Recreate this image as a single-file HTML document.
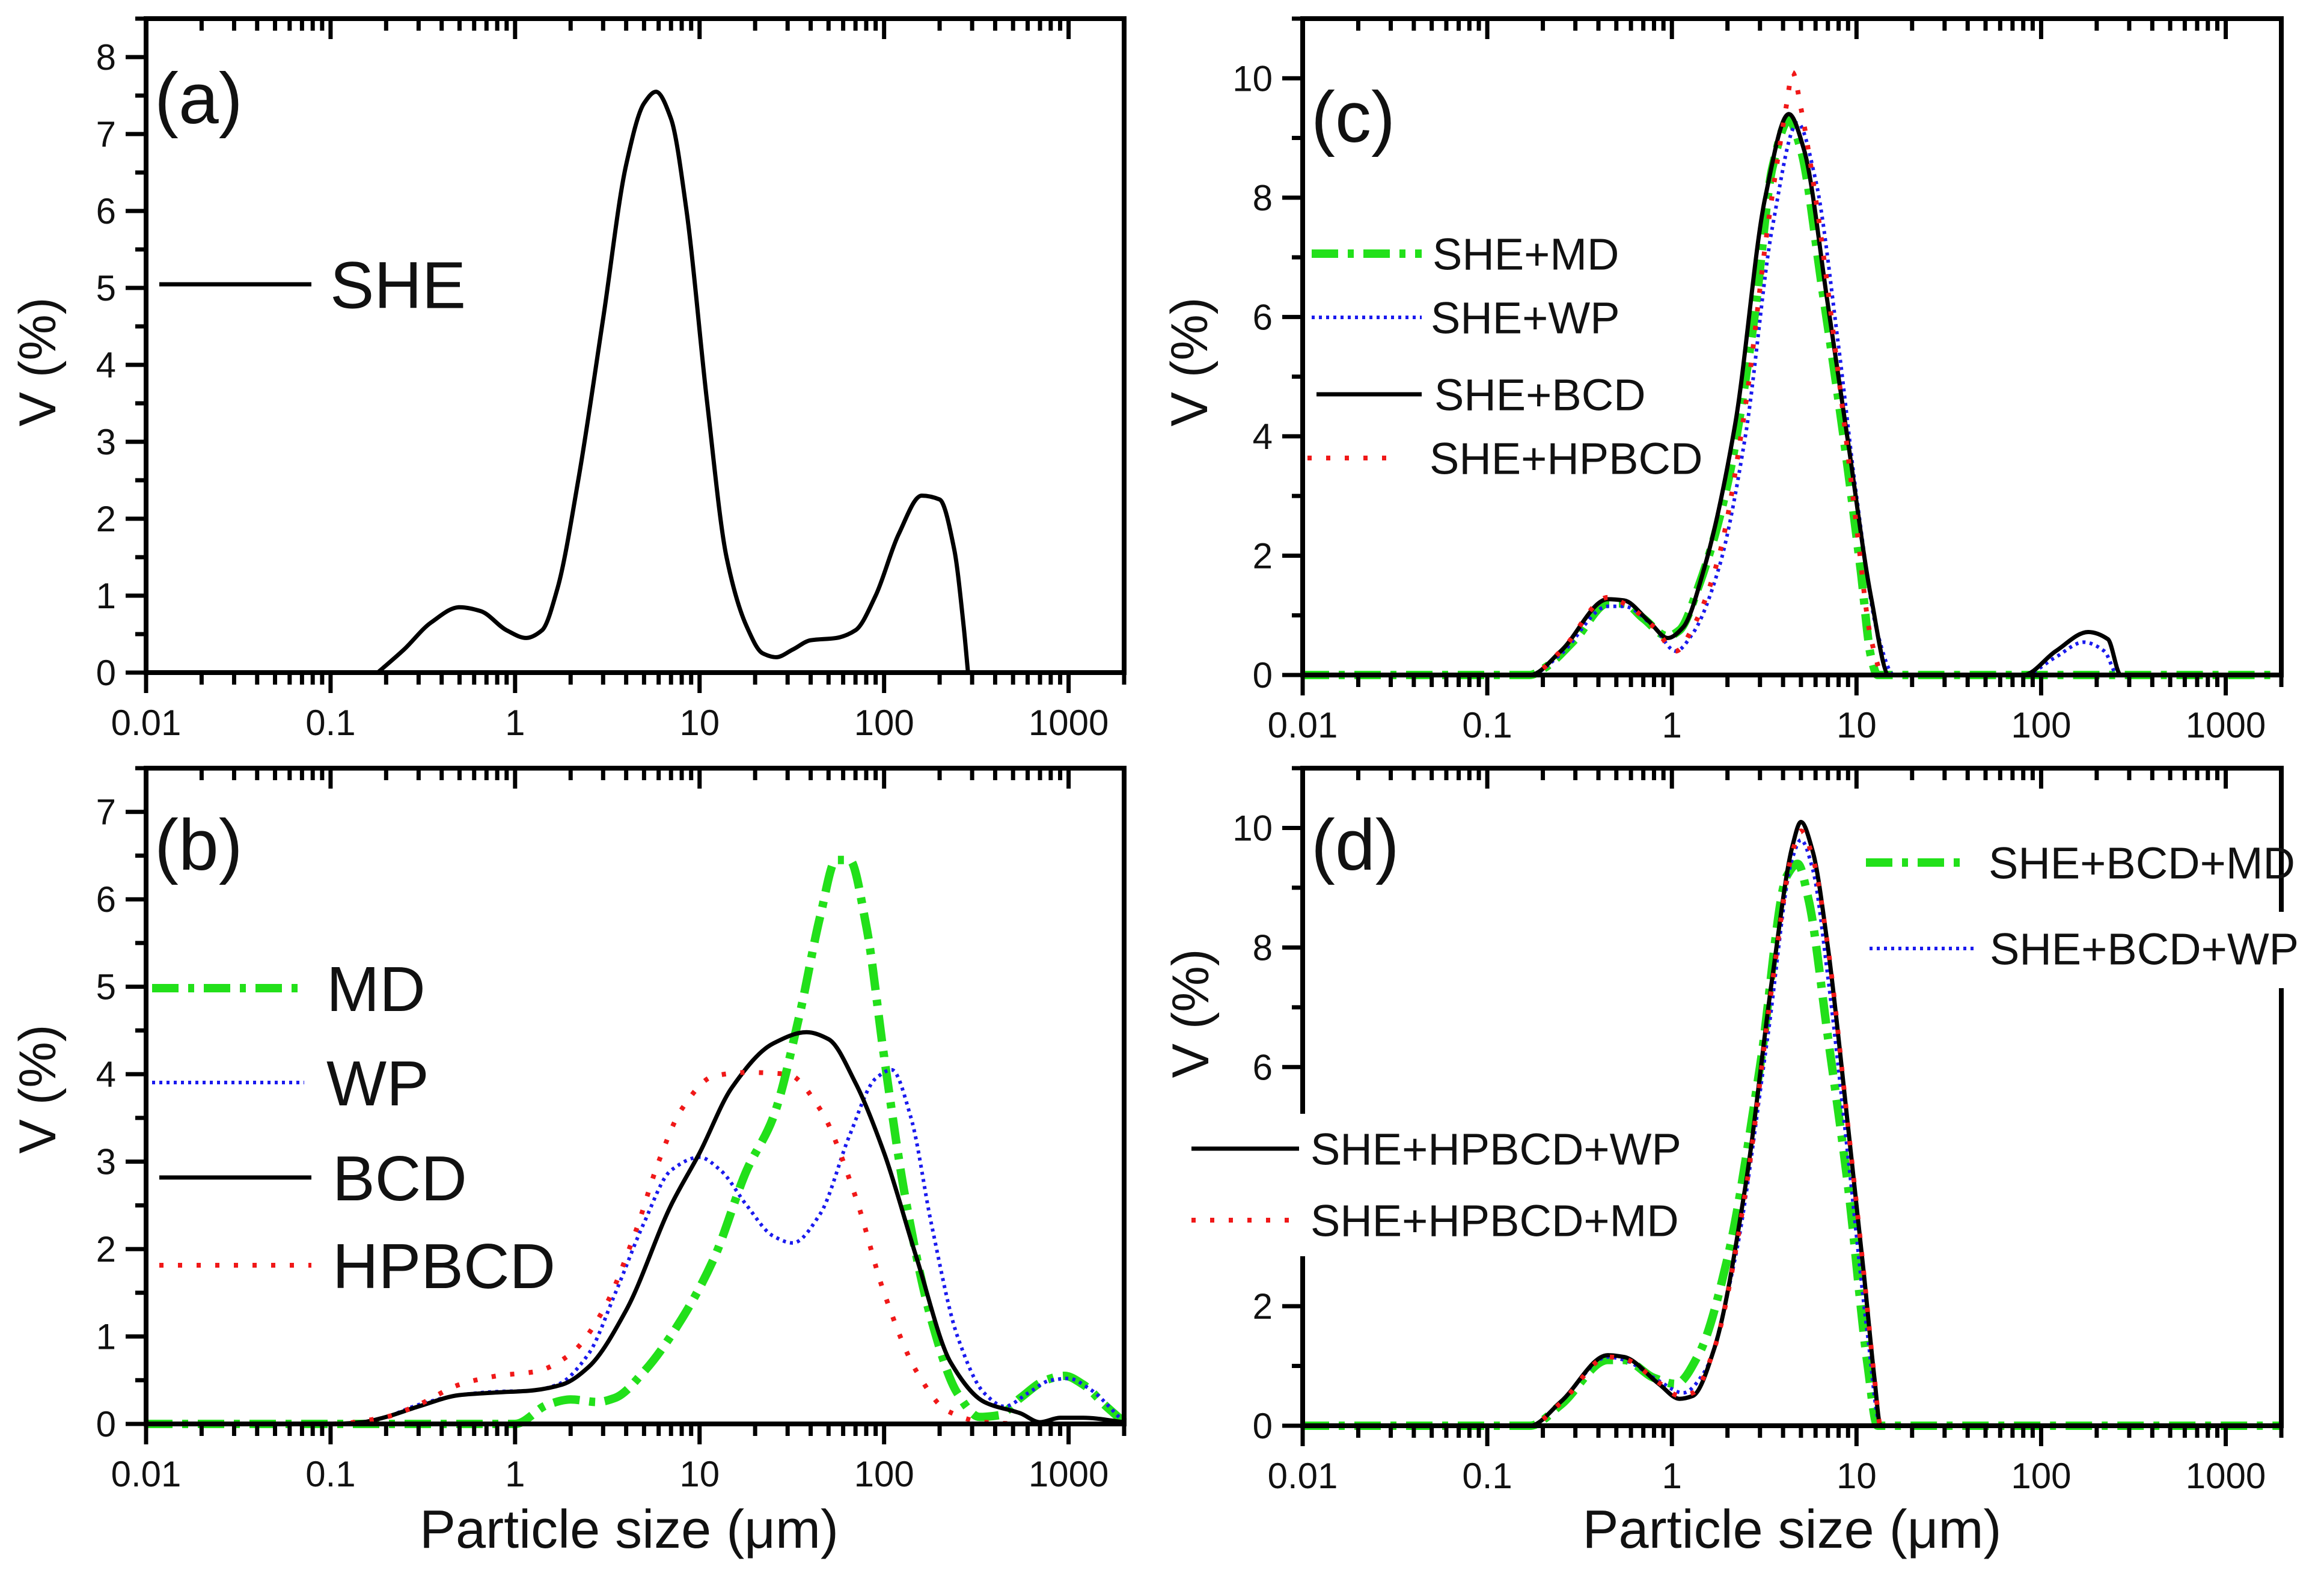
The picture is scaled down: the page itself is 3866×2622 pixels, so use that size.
<!DOCTYPE html>
<html><head><meta charset="utf-8"><style>
html,body{margin:0;padding:0;background:#fff}
svg{display:block}
text{font-family:"Liberation Sans",Arial,sans-serif;fill:#111}
</style></head><body>
<svg id="fig" width="3866" height="2622" viewBox="0 0 3866 2622" xmlns="http://www.w3.org/2000/svg"></svg>
<script>
// ---------- data ----------
const xTickLabels = ["0.01","0.1","1","10","100","1000"];
const aYTicks = [0,1,2,3,4,5,6,7,8];
const bYTicks = [0,1,2,3,4,5,6,7];
const cdYTicks = [0,2,4,6,8,10];

const sheX = [0.18,0.25,0.35,0.5,0.65,0.9,1.15,1.4,1.7,2.2,3,4,5,5.8,7,8.5,11,14,18,22,26,32,40,55,70,90,120,160,200,240,270,285];
const sheY = [0,0.3,0.65,0.85,0.8,0.55,0.45,0.55,1.1,2.5,4.6,6.6,7.4,7.55,7.2,6,3.5,1.5,0.6,0.25,0.2,0.3,0.42,0.45,0.55,1.0,1.8,2.3,2.25,1.6,0.6,0];

const mdX = [0.01,0.1,1,1.5,2,2.8,3.5,5,8,12,18,25,35,45,55,65,80,100,130,180,250,330,420,550,750,950,1200,1600,2000];
const mdY = [0,0,0,0.22,0.28,0.25,0.3,0.6,1.2,1.9,2.9,3.5,4.7,5.8,6.45,6.45,5.7,4.2,2.6,1.2,0.35,0.08,0.1,0.3,0.5,0.55,0.45,0.2,0.02];
const wpX = [0.01,0.1,0.15,0.2,0.3,0.5,0.8,1.2,1.7,2.5,3.5,5,7,10,13,18,25,32,45,65,90,110,140,180,250,350,450,600,800,1000,1300,2000];
const wpY = [0,0,0.02,0.08,0.22,0.33,0.37,0.38,0.45,0.8,1.5,2.3,2.9,3.05,2.9,2.5,2.15,2.07,2.4,3.3,3.95,4.05,3.5,2.3,1.0,0.35,0.2,0.35,0.5,0.52,0.4,0.02];
const bcdX = [0.01,0.1,0.15,0.2,0.3,0.5,0.8,1.2,1.8,2.5,4,7,10,15,25,38,50,70,100,150,230,350,550,700,900,1200,2000];
const bcdY = [0,0,0.02,0.08,0.2,0.33,0.36,0.38,0.45,0.65,1.3,2.5,3.1,3.85,4.35,4.48,4.4,3.9,3.1,1.9,0.7,0.25,0.12,0.02,0.07,0.07,0.02];
const hpX = [0.01,0.1,0.2,0.3,0.5,0.8,1.3,2,3,4.5,6,8,12,18,30,45,70,100,150,220,350,600,2000];
const hpY = [0,0,0.08,0.22,0.45,0.55,0.6,0.8,1.3,2.2,3,3.6,3.98,4.02,4.0,3.6,2.6,1.5,0.6,0.15,0.02,0,0];

const cMdX = [0.01,0.17,0.2,0.3,0.45,0.55,0.7,0.95,1.1,1.4,2,2.8,3.5,4.3,5,6.5,8.5,10.5,12,13,2000];
const cMdY = [0,0,0.1,0.6,1.2,1.2,0.95,0.65,0.75,1.5,3.2,6,8.5,9.3,8.8,6.5,4,1.8,0.3,0,0];
const cWpX = [0.01,0.17,0.25,0.45,0.55,0.8,1.05,1.3,1.8,2.5,3.5,4.8,6,8,10,13,16,80,120,170,220,260,2000];
const cWpY = [0,0,0.35,1.15,1.15,0.8,0.4,0.7,1.8,4,7.5,9.25,8.3,5.5,3,0.7,0,0,0.3,0.55,0.4,0,0];
const cBcdX = [0.01,0.17,0.25,0.45,0.55,0.75,0.95,1.15,1.5,2.2,3.2,4.3,5.2,7,9,12,15,80,120,180,230,270,2000];
const cBcdY = [0,0,0.4,1.27,1.25,0.9,0.62,0.8,1.8,4.2,8,9.4,8.8,6.2,3.9,1.3,0,0,0.4,0.72,0.6,0,0];
const cHpX = [0.01,0.17,0.25,0.45,0.55,0.8,1.05,1.3,1.8,2.5,3.3,4.2,4.5,5,6,8,10,12,14,2000];
const cHpY = [0,0,0.4,1.3,1.2,0.8,0.4,0.8,2,4.5,7.5,9.6,10.1,9.5,8,5,2.5,0.6,0,0];

const dBmX = [0.01,0.17,0.25,0.45,0.55,0.8,1.05,1.4,2,3,4.2,4.8,5.5,7,9,11.5,13,2000];
const dBmY = [0,0,0.35,1.1,1.1,0.8,0.7,1.2,2.8,6,9.2,9.4,8.8,6.5,4,1,0,0];
const dBwX = [0.01,0.17,0.25,0.45,0.55,0.85,1.15,1.5,2.2,3.3,4.5,5,5.8,7,9,11.5,13.5,2000];
const dBwY = [0,0,0.4,1.15,1.1,0.75,0.55,0.9,2.8,6.5,9.5,9.8,9.3,7.5,4.5,1.5,0,0];
const dHwX = [0.01,0.17,0.25,0.45,0.55,0.85,1.1,1.3,1.7,2.5,3.5,4.5,5,5.8,7,9,11,12.5,13.5,2000];
const dHwY = [0,0,0.4,1.18,1.15,0.7,0.45,0.5,1.3,4,7.5,9.7,10.1,9.6,8,5,2.5,0.8,0,0];
const dHmX = [0.01,0.17,0.25,0.45,0.55,0.85,1.1,1.3,1.7,2.5,3.5,4.5,5,5.8,7,9,11,12.5,13.5,2000];
const dHmY = [0,0,0.38,1.15,1.12,0.72,0.5,0.55,1.3,3.9,7.4,9.6,9.95,9.5,8,5,2.5,0.8,0,0];

// ---------- helpers ----------
const NS="http://www.w3.org/2000/svg";
const svg=document.getElementById('fig');
function mk(tag,attrs,parent){const e=document.createElementNS(NS,tag);for(const k in attrs)e.setAttribute(k,attrs[k]);(parent||svg).appendChild(e);return e;}
const LXMIN=-2, LXMAX=Math.log10(2000);

function monoPath(pts){
  const n=pts.length;
  const dx=[],m=[];
  for(let i=0;i<n-1;i++){dx.push(pts[i+1][0]-pts[i][0]);m.push((pts[i+1][1]-pts[i][1])/dx[i]);}
  const t=new Array(n);
  t[0]=m[0];t[n-1]=m[n-2];
  for(let i=1;i<n-1;i++){
    if(m[i-1]*m[i]<=0)t[i]=0;
    else{const w1=2*dx[i]+dx[i-1],w2=dx[i]+2*dx[i-1];t[i]=(w1+w2)/(w1/m[i-1]+w2/m[i]);}
  }
  let d='M'+pts[0][0].toFixed(1)+','+pts[0][1].toFixed(1);
  for(let i=0;i<n-1;i++){
    const h=dx[i]/3;
    d+=' C'+(pts[i][0]+h).toFixed(1)+','+(pts[i][1]+t[i]*h).toFixed(1)+' '+(pts[i+1][0]-h).toFixed(1)+','+(pts[i+1][1]-t[i+1]*h).toFixed(1)+' '+pts[i+1][0].toFixed(1)+','+pts[i+1][1].toFixed(1);
  }
  return d;
}

function panel(p){
  const g=mk('g',{});
  
  
  const sx=v=>p.l+(Math.log10(v)-LXMIN)/(LXMAX-LXMIN)*(p.r-p.l);
  const sy=v=>p.b-(v/p.ymax)*(p.b-p.t);
  p.series.forEach(s=>{
    const pts=s.x.map((xv,i)=>[sx(xv),sy(s.y[i])]);
    const path=mk('path',{d:monoPath(pts),fill:'none',stroke:s.color,'stroke-width':s.w,'stroke-dasharray':s.dash||'none','stroke-linecap':s.cap||'butt','stroke-linejoin':'round'},g);
    
    
  });
  const ax=mk('g',{stroke:'#000','stroke-width':8,fill:'none'},g);
  
  
  mk('rect',{x:p.l,y:p.t,width:p.r-p.l,height:p.b-p.t},ax);
  for(let dec=-2;dec<=3;dec++){
    for(let m=1;m<=9;m++){
      const v=m*Math.pow(10,dec); if(v>2000)break;
      const x=sx(v); const L=m===1?34:20;
      mk('line',{x1:x,y1:p.b,x2:x,y2:p.b+L,'stroke-width':7},ax);
      mk('line',{x1:x,y1:p.t,x2:x,y2:p.t+L,'stroke-width':7},ax);
    }
  }
  xTickLabels.forEach(lab=>{
    const t=mk('text',{x:sx(parseFloat(lab)),y:p.b+104,'font-size':60,'text-anchor':'middle'},g);
    t.textContent=lab;
    
    
  });
  const step=p.yTicks[1]-p.yTicks[0];
  for(let v=0;v<=p.ymax+1e-9;v+=step/2){
    const major=Math.abs(v/step-Math.round(v/step))<1e-6;
    mk('line',{x1:p.l,y1:sy(v),x2:p.l-(major?34:18),y2:sy(v),'stroke-width':7},ax);
  }
  p.yTicks.forEach(v=>{
    const t=mk('text',{x:p.l-50,y:sy(v)+21,'font-size':60,'text-anchor':'end'},g);
    t.textContent=String(v);
    
    
  });
  const yt=mk('text',{x:p.ytx,y:p.yty,'font-size':86,'text-anchor':'middle',transform:'rotate(-90 '+p.ytx+' '+p.yty+')'},g);
  yt.textContent='V (%)';
  
  
  const pl=mk('text',{x:p.l+14,y:p.letterY,'font-size':120},g);
  pl.textContent='('+p.id+')';
  
  
  if(p.xtitle){
    const xt=mk('text',{x:(p.l+p.r)/2+(p.xtOff||0),y:2575,'font-size':90,'text-anchor':'middle'},g);
    xt.textContent='Particle size (\u03bcm)';
    
    
  }
  (p.blanks||[]).forEach(b=>mk('rect',{x:b[0],y:b[1],width:b[2],height:b[3],fill:'#fff'},g));
  p.legend.forEach(e=>{
    const lg=mk('g',{},g);
    
    
    mk('line',{x1:e.x1,y1:e.y,x2:e.x2,y2:e.y,stroke:e.s.color,'stroke-width':e.s.w,'stroke-dasharray':e.s.dash||'none','stroke-linecap':e.s.cap||'butt'},lg);
    const t=mk('text',{x:e.tx,y:e.y+e.fs*0.36,'font-size':e.fs},lg);
    t.textContent=e.label;
  });
}

const GREEN={color:'#22e01a',w:14,dash:'44 16 10 16'};
const BLUE={color:'#1a1aee',w:6,dash:'5 7'};
const BLACK={color:'#000',w:7};
const RED={color:'#f01818',w:8,dash:'7 24'};
const S=(o,x,y,n)=>Object.assign({},o,{x:x,y:y,name:n});

panel({id:'a',l:243,r:1870,t:31,b:1119,ymax:8.5,yTicks:aYTicks,ytx:92,yty:602,letterY:205,
  series:[S(BLACK,sheX,sheY,'she')],
  legend:[{x1:265,x2:518,y:473,tx:549,label:'SHE',fs:110,s:BLACK}]});
panel({id:'b',l:243,r:1870,t:1278,b:2369,ymax:7.5,yTicks:bYTicks,ytx:92,yty:1812,letterY:1447,xtitle:true,xtOff:-10,
  series:[S(GREEN,mdX,mdY,'md'),S(BLUE,wpX,wpY,'wp'),S(BLACK,bcdX,bcdY,'bcd'),S(RED,hpX,hpY,'hpbcd')],
  legend:[{x1:253,x2:506,y:1644,tx:543,label:'MD',fs:106,s:GREEN},
          {x1:253,x2:506,y:1801,tx:543,label:'WP',fs:106,s:BLUE},
          {x1:265,x2:518,y:1959,tx:553,label:'BCD',fs:106,s:BLACK},
          {x1:265,x2:518,y:2105,tx:553,label:'HPBCD',fs:106,s:RED}]});
panel({id:'c',l:2167,r:3795,t:31,b:1123,ymax:11,yTicks:cdYTicks,ytx:2008,yty:602,letterY:236,
  series:[S(GREEN,cMdX,cMdY,'she-md'),S(BLUE,cWpX,cWpY,'she-wp'),S(BLACK,cBcdX,cBcdY,'she-bcd'),S(RED,cHpX,cHpY,'she-hpbcd')],
  legend:[{x1:2182,x2:2365,y:422,tx:2383,label:'SHE+MD',fs:74,s:GREEN},
          {x1:2182,x2:2365,y:528,tx:2380,label:'SHE+WP',fs:74,s:BLUE},
          {x1:2190,x2:2365,y:656,tx:2386,label:'SHE+BCD',fs:74,s:BLACK},
          {x1:2175,x2:2330,y:762,tx:2378,label:'SHE+HPBCD',fs:74,s:RED}]});
panel({id:'d',l:2167,r:3795,t:1278,b:2372,ymax:11,yTicks:cdYTicks,ytx:2010,yty:1686,letterY:1447,xtitle:true,
  series:[S(GREEN,dBmX,dBmY,'she-bcd-md'),S(BLUE,dBwX,dBwY,'she-bcd-wp'),S(BLACK,dHwX,dHwY,'she-hpbcd-wp'),S(RED,dHmX,dHmY,'she-hpbcd-md')],
  blanks:[[3290,1517,560,127],[1960,1853,215,237]],
  legend:[{x1:3104,x2:3271,y:1435,tx:3308,label:'SHE+BCD+MD',fs:74,s:GREEN},
          {x1:3110,x2:3290,y:1578,tx:3310,label:'SHE+BCD+WP',fs:74,s:BLUE},
          {x1:1982,x2:2161,y:1911,tx:2180,label:'SHE+HPBCD+WP',fs:74,s:BLACK},
          {x1:1982,x2:2161,y:2030,tx:2180,label:'SHE+HPBCD+MD',fs:74,s:RED}]});
</script>
</body></html>
